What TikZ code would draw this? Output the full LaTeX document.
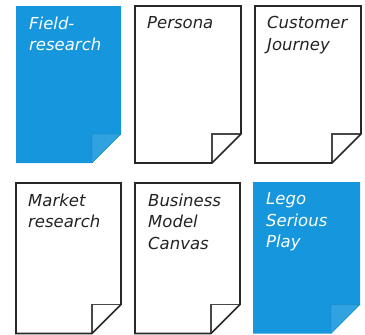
\documentclass[tikz,border=0pt]{standalone}
\usepackage{fontspec}
\setmainfont{DejaVu Sans}
\definecolor{cardblue}{RGB}{22,150,220}
\definecolor{foldblue}{RGB}{48,162,224}
\definecolor{cardline}{RGB}{40,40,40}
\definecolor{cardtext}{RGB}{35,35,35}
\tikzset{
  cardedge/.style={draw=cardline, line width=1.7bp, line join=miter, fill=white},
  bluecard/.style={fill=cardblue, draw=none},
  foldwhite/.style={draw=cardline!85, line width=1.3bp, fill=none},
  foldblueS/.style={fill=foldblue, draw=cardblue!85!black, line width=0.3bp},
  cardlabel/.style={anchor=north west, align=left, inner sep=0pt,
    font=\fontsize{16.5bp}{21.5bp}\selectfont\itshape},
}
\newcommand{\whitecard}[5]{% name, left, top, right, bottom
  \fill[white] (#2,#3) -- (#4,#3) -- (#4,#5-29) -- (#4-29,#5) -- (#2,#5) -- cycle;
  \draw[foldwhite] (#4,#5-29) -- (#4-29,#5-29) -- (#4-29,#5);
  \draw[cardedge, fill=none] (#2,#3) -- (#4,#3) -- (#4,#5-29) -- (#4-29,#5) -- (#2,#5) -- cycle;
  \coordinate (#1) at (#2,#3);
}
\newcommand{\bluecardshape}[5]{%
  \fill[bluecard] (#2,#3) -- (#4,#3) -- (#4,#5-29) -- (#4-29,#5) -- (#2,#5) -- cycle;
  \filldraw[foldblueS] (#4,#5-29) -- (#4-29,#5-29) -- (#4-29,#5) -- cycle;
  \coordinate (#1) at (#2,#3);
}
\begin{document}
\begin{tikzpicture}[x=1bp,y=-1bp]
\useasboundingbox (0,0) rectangle (365,335);
\bluecardshape{c1}{16}{6}{121}{163}
\whitecard{c2}{135}{6}{241}{163}
\whitecard{c3}{255}{6}{361}{163}
\whitecard{c4}{16}{183}{121}{333.5}
\whitecard{c5}{135}{183}{240}{333.5}
\bluecardshape{c6}{253}{182}{360}{333.5}
\node[cardlabel, text=white] (t1) at ([xshift=13bp,yshift=-10.5bp]c1) {Field-\\research};
\node[cardlabel, text=cardtext] (t2) at ([xshift=12bp,yshift=-10.5bp]c2) {Persona};
\node[cardlabel, text=cardtext] (t3) at ([xshift=12bp,yshift=-10.5bp]c3) {Customer\\Journey};
\node[cardlabel, text=cardtext] (t4) at ([xshift=12bp,yshift=-10.5bp]c4) {Market\\research};
\node[cardlabel, text=cardtext] (t5) at ([xshift=13bp,yshift=-10.5bp]c5) {Business\\Model\\Canvas};
\node[cardlabel, text=white] (t6) at ([xshift=13bp,yshift=-10.5bp]c6) {Lego\\Serious\\Play};
\end{tikzpicture}
\end{document}
